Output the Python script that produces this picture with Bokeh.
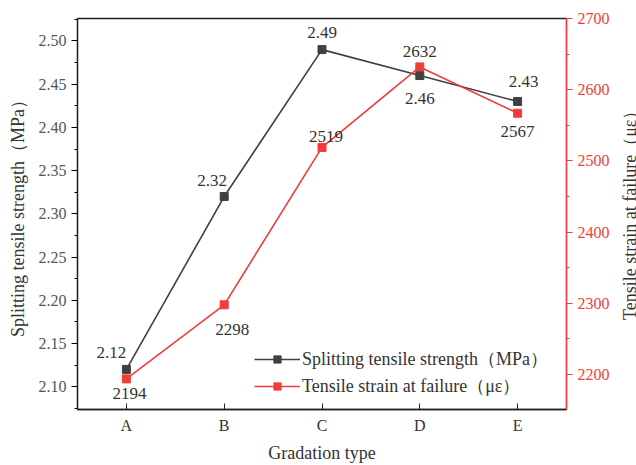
from bokeh.plotting import figure
from bokeh.models import (Range1d, FactorRange, LinearAxis, SingleIntervalTicker,
                          Legend, LegendItem, ColumnDataSource, NumeralTickFormatter, Div)
from bokeh.layouts import row
from bokeh.core.properties import value
from bokeh.embed import file_html
from bokeh.resources import INLINE

gradation = ["A", "B", "C", "D", "E"]
strength = [2.12, 2.32, 2.49, 2.46, 2.43]
strain = [2194, 2298, 2519, 2632, 2567]
strength_labels = ["2.12", "2.32", "2.49", "2.46", "2.43"]
strain_labels = ["2194", "2298", "2519", "2632", "2567"]
right_title_text = "Tensile strain at failure\uff08\u03bc\u03b5\uff09"

FONT = "Liberation Serif"
DARK = "#404040"
RED = "#f23c3c"
TXT = "#333333"

p = figure(width=614, height=465, x_range=FactorRange(*gradation),
           y_range=Range1d(2.0736, 2.526), output_backend="svg",
           toolbar_location=None, min_border_left=77, min_border_right=48,
           min_border_top=18, min_border_bottom=52)
p.extra_y_ranges = {"strain": Range1d(2151, 2700)}
p.grid.visible = False
p.outline_line_color = "#222222"
p.outline_line_width = 1.3
p.background_fill_color = "white"
p.border_fill_color = "white"

# x axis
xa = p.xaxis[0]
xa.axis_label = "Gradation type"
xa.axis_label_text_font = FONT
xa.axis_label_text_font_size = "18px"
xa.axis_label_text_font_style = "normal"
xa.axis_label_text_color = TXT
xa.axis_label_standoff = 6
xa.major_label_text_font = FONT
xa.major_label_text_font_size = "16px"
xa.major_label_text_color = TXT
xa.major_label_standoff = 7
xa.major_tick_in = 6
xa.major_tick_out = 0
xa.axis_line_color = "#222222"
xa.axis_line_width = 1.3
xa.major_tick_line_color = "#222222"

# left axis
ya = p.yaxis[0]
ya.ticker = SingleIntervalTicker(interval=0.05, num_minor_ticks=2)
ya.formatter = NumeralTickFormatter(format="0.00")
ya.axis_label = "Splitting tensile strength\uff08MPa\uff09"
ya.axis_label_text_font = FONT
ya.axis_label_text_font_size = "18px"
ya.axis_label_text_font_style = "normal"
ya.axis_label_text_color = TXT
ya.axis_label_standoff = 8
ya.major_label_text_font = FONT
ya.major_label_text_font_size = "16px"
ya.major_label_text_color = "#555555"
ya.major_tick_in = 0
ya.major_tick_out = 6
ya.minor_tick_in = 0
ya.minor_tick_out = 3
ya.axis_line_color = "#222222"
ya.axis_line_width = 1.3

# right axis
ra = LinearAxis(y_range_name="strain",
                ticker=SingleIntervalTicker(interval=100, num_minor_ticks=2))
ra.major_label_text_font = FONT
ra.major_label_text_font_size = "16px"
ra.major_label_text_color = RED
ra.major_tick_in = 0
ra.major_tick_out = 6
ra.minor_tick_in = 0
ra.minor_tick_out = 3
ra.axis_line_color = RED
ra.axis_line_width = 1.3
ra.major_tick_line_color = RED
ra.minor_tick_line_color = RED
p.add_layout(ra, "right")

src1 = ColumnDataSource(dict(x=gradation, y=strength, t=strength_labels))
src2 = ColumnDataSource(dict(x=gradation, y=strain, t=strain_labels))

l1 = p.line("x", "y", source=src1, line_color=DARK, line_width=1.6)
m1 = p.scatter("x", "y", source=src1, marker="square", size=8,
               fill_color=DARK, line_color=DARK)
l2 = p.line("x", "y", source=src2, line_color=RED, line_width=1.6,
            y_range_name="strain")
m2 = p.scatter("x", "y", source=src2, marker="square", size=8,
               fill_color=RED, line_color=RED, y_range_name="strain")

# data labels
s_dx = [-15, -12, 0, 0, 6]
s_dy = [-17, -16, -17, 23, -20]
t_dx = [3, 8, 4, 0, 0]
t_dy = [15, 25, -11, -15, 18]
for i in range(5):
    p.text(x=[gradation[i]], y=[strength[i]], text=[strength_labels[i]],
           x_offset=s_dx[i], y_offset=s_dy[i], text_align="center",
           text_baseline="middle", text_font=value(FONT),
           text_font_size="17px", text_color=TXT)
    p.text(x=[gradation[i]], y=[strain[i]], text=[strain_labels[i]],
           x_offset=t_dx[i], y_offset=t_dy[i], text_align="center",
           text_baseline="middle", text_font=value(FONT),
           text_font_size="17px", text_color=TXT, y_range_name="strain")

legend = Legend(items=[
    LegendItem(label="Splitting tensile strength\uff08MPa\uff09", renderers=[l1, m1]),
    LegendItem(label="Tensile strain at failure\uff08\u03bc\u03b5\uff09", renderers=[l2, m2]),
], location=(177, 11))
legend.label_text_font = FONT
legend.label_text_font_size = "18px"
legend.label_text_color = TXT
legend.border_line_color = None
legend.background_fill_alpha = 0
legend.glyph_width = 46
legend.glyph_height = 18
legend.spacing = 3
legend.label_standoff = 2
legend.padding = 4
p.add_layout(legend)

# right-hand axis title, reading bottom to top
div_html = (
    '<div style="margin-top:8px; width:22px; height:395px; '
    'writing-mode:vertical-rl; text-orientation:sideways; '
    'transform:rotate(180deg); text-align:center; '
    "font-family:'Liberation Serif', serif; font-size:18px; line-height:22px; "
    'color:%s; white-space:nowrap; overflow:visible;">%s</div>' % (TXT, right_title_text)
)
title_div = Div(text=div_html, width=22, height=465)

layout = row(p, title_div)
open("out.html", "w").write(file_html(layout, INLINE))
